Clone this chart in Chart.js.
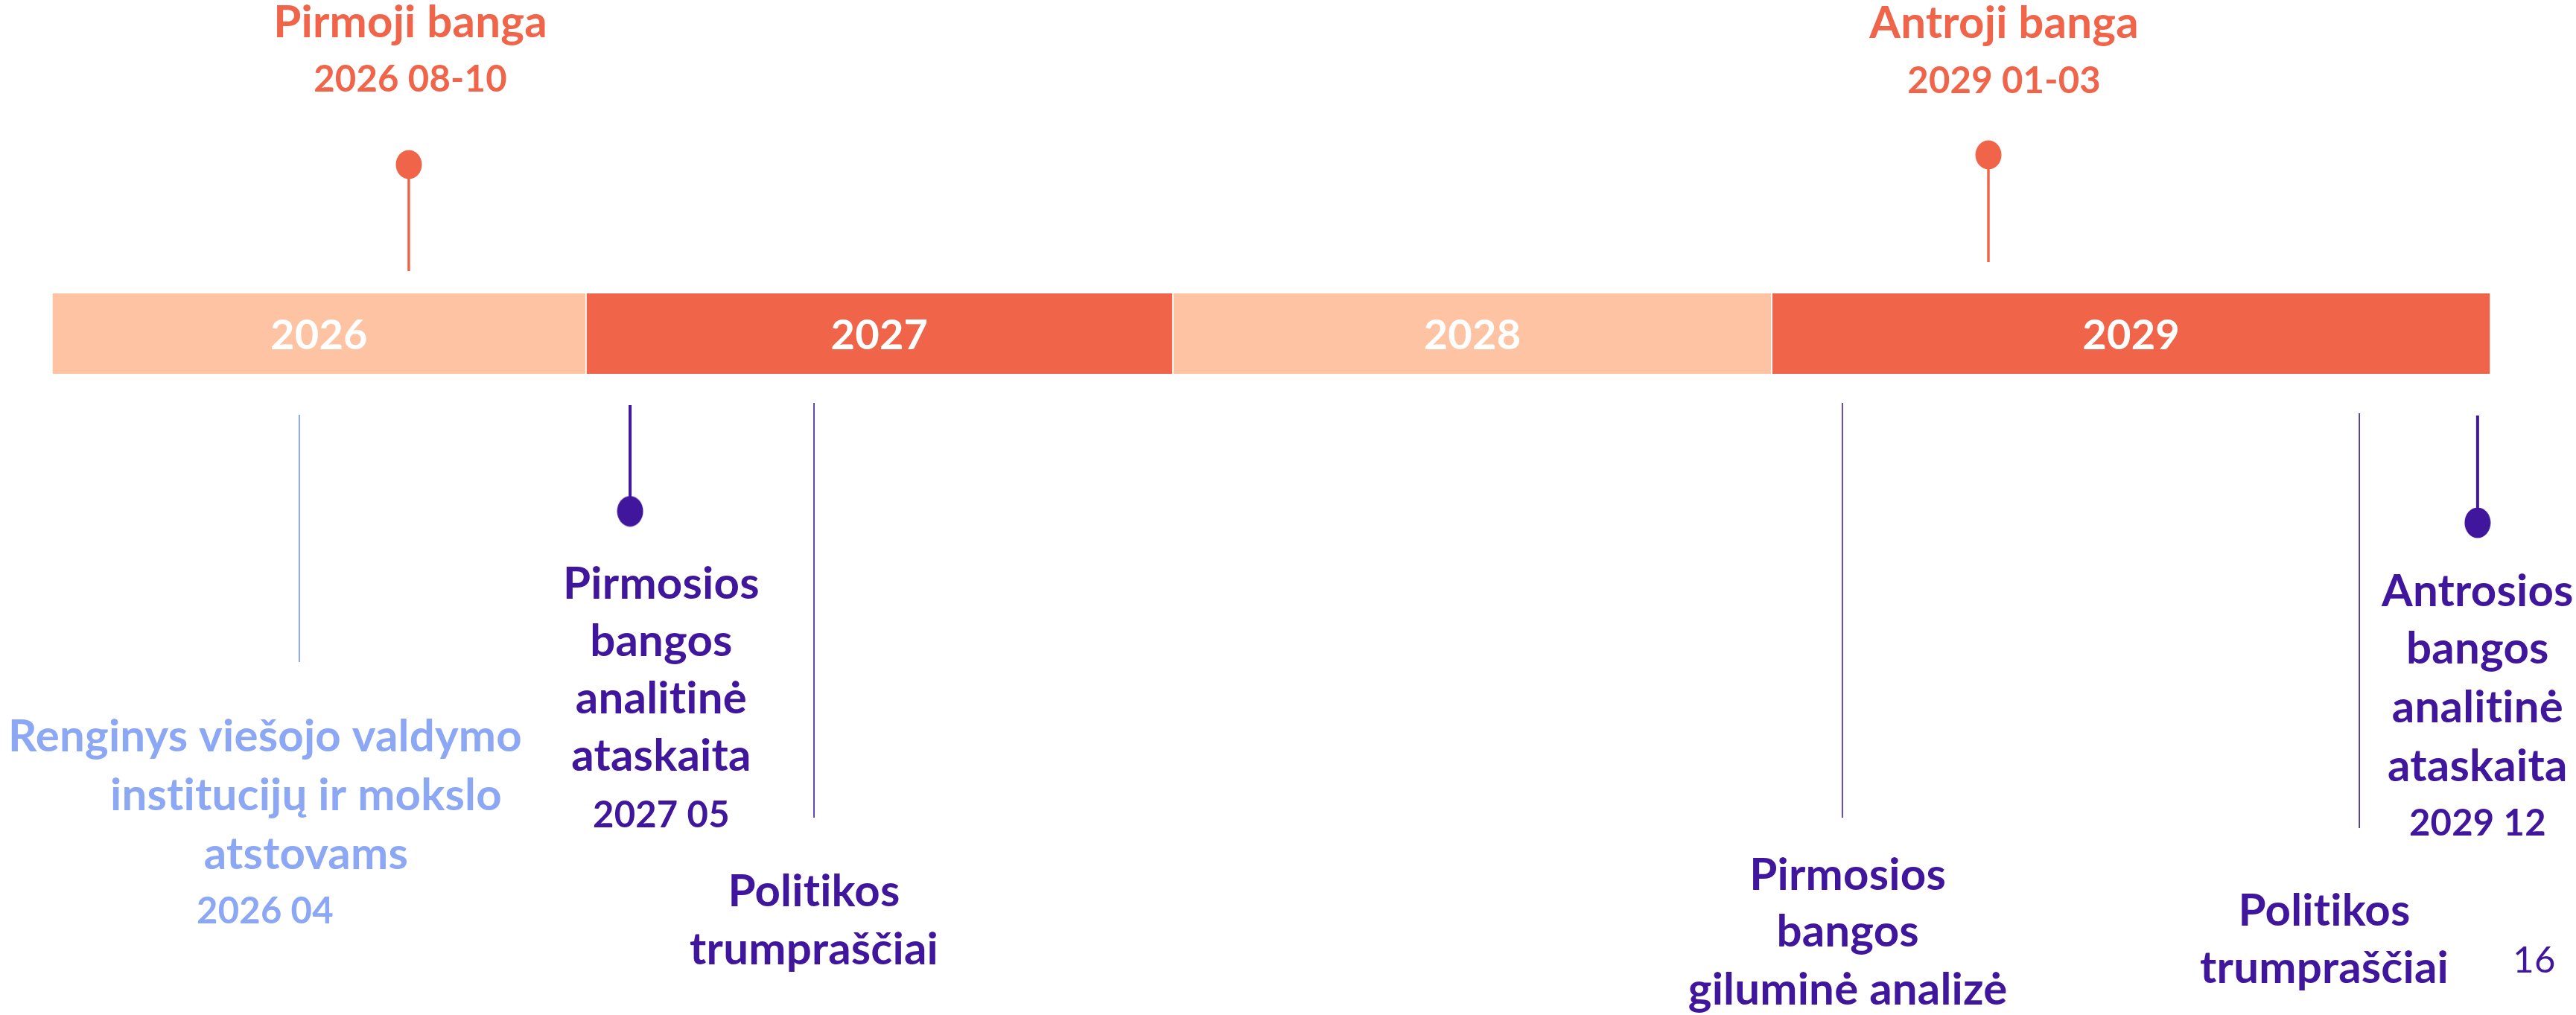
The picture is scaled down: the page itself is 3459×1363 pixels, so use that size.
<!DOCTYPE html>
<html><head><meta charset="utf-8">
<script src="https://cdn.jsdelivr.net/npm/chart.js@4"></script>
<style>html,body{margin:0;padding:0;background:#fff;overflow:hidden}canvas{display:block}</style>
</head><body>
<canvas id="c" width="3459" height="1363"></canvas>
<script>
// ---------- DATA ----------
// Timeline positions are read from the picture in "percent of the timeline width".
const years = ['2026', '2027', '2028', '2029'];
const yearStart = [2.02, 22.75, 45.53, 68.78];
const yearEnd = [22.75, 45.53, 68.78, 96.68];

const milestoneLabels = [
  ['Pirmoji banga'],
  ['Antroji banga'],
  ['Pirmosios', 'bangos', 'analitinė', 'ataskaita'],
  ['Antrosios', 'bangos', 'analitinė', 'ataskaita']
];
const milestoneDates = ['2026 08-10', '2029 01-03', '2027 05', '2029 12'];
const milestoneX = [15.87, 77.19, 24.46, 96.18];

const activityLabels = [
  ['Renginys viešojo valdymo', 'institucijų ir mokslo', 'atstovams'],
  ['Politikos', 'trumpraščiai'],
  ['Pirmosios', 'bangos', 'giluminė analizė'],
  ['Politikos', 'trumpraščiai']
];
const activityDates = ['2026 04', '', '', ''];
const activityX = [11.62, 31.60, 71.52, 91.59];

const pageNumber = '16';

// ---------- LAYOUT & STYLE (vertical levels in percent of height) ----------
const LAYOUT = {
  bandLevel: 32.87,
  milestoneDotLevel: [16.21, 15.26, 50.37, 51.50],
  milestoneStemEnd: [26.71, 25.83, 39.91, 40.94],
  activityTop: [40.87, 39.69, 39.69, 40.72],
  activityBottom: [65.22, 80.56, 80.56, 81.58],
  milestoneText: [
    {cx: [15.93], y: [3.67, 9.02]},
    {cx: [77.80], y: [3.74, 9.17]},
    {cx: [25.67], y: [58.99, 64.64, 70.29, 75.94, 81.51]},
    {cx: [96.18], y: [59.72, 65.37, 71.17, 76.96, 82.32]}
  ],
  activityText: [
    {cx: [10.29, 11.88, 11.88, 10.29], y: [74.03, 79.82, 85.62, 90.98]},
    {cx: [31.60], y: [89.29, 95.01]},
    {cx: [71.73], y: [87.67, 93.25, 98.97]},
    {cx: [90.23], y: [91.20, 96.85]}
  ],
  pageText: {cx: 98.38, y: 95.82}
};
const ORANGE = '#F0654A', PEACH = '#FEC3A2', PURPLE = '#3F169C', BLUE = '#8CA8F5', THIN = '#5235B0';
const FONT = 'Lato, "Open Sans", sans-serif';
const LABEL_SIZE = 60, DATE_SIZE = 49, YEAR_SIZE = 56, PAGE_SIZE = 49;
const milestoneColor = [ORANGE, ORANGE, PURPLE, PURPLE];
const activityTextColor = [BLUE, PURPLE, PURPLE, PURPLE];
const activityLineColor = [BLUE, THIN, THIN, THIN];

function ellipse(color, w, h) {
  const c = document.createElement('canvas');
  c.width = w; c.height = h;
  const g = c.getContext('2d');
  g.fillStyle = color;
  g.beginPath();
  g.ellipse(w / 2, h / 2, w / 2 - 0.5, h / 2 - 0.5, 0, 0, Math.PI * 2);
  g.fill();
  return c;
}
const dotImages = milestoneColor.map((c, i) => ellipse(c, 36, i < 2 ? 40 : 42));

// ---------- DATASETS ----------
const datasets = [];
datasets.push({
  type: 'bar',
  indexAxis: 'y',
  data: years.map((yr, i) => ({x: [yearStart[i], yearEnd[i]], y: LAYOUT.bandLevel})),
  backgroundColor: years.map((_, i) => i % 2 === 0 ? PEACH : ORANGE),
  borderColor: '#ffffff',
  borderWidth: {left: 1.2, right: 1.2, top: 0, bottom: 0},
  borderSkipped: false,
  barThickness: 108,
  order: 3
});
activityX.forEach((x, i) => datasets.push({
  type: 'line',
  data: [{x: x, y: LAYOUT.activityTop[i]}, {x: x, y: LAYOUT.activityBottom[i]}],
  borderColor: activityLineColor[i],
  borderWidth: i === 0 ? 2 : 1.8,
  pointRadius: 0,
  order: 2
}));
milestoneX.forEach((x, i) => datasets.push({
  type: 'line',
  data: [{x: x, y: LAYOUT.milestoneDotLevel[i]}, {x: x, y: LAYOUT.milestoneStemEnd[i]}],
  borderColor: milestoneColor[i],
  borderWidth: i < 2 ? 3.5 : 4,
  pointRadius: 0,
  order: 1
}));
datasets.push({
  type: 'scatter',
  data: milestoneX.map((x, i) => ({x: x, y: LAYOUT.milestoneDotLevel[i]})),
  pointStyle: dotImages,
  pointRadius: 20,
  order: 0
});

// ---------- TEXT PLUGIN ----------
const textPlugin = {
  id: 'timelineText',
  afterDatasetsDraw(chart) {
    const ctx = chart.ctx, xs = chart.scales.x, ys = chart.scales.y;
    ctx.save();
    ctx.textAlign = 'center';
    ctx.textBaseline = 'alphabetic';
    try { ctx.letterSpacing = '0.2px'; } catch (e) {}
    // year labels inside bands
    const meta = chart.getDatasetMeta(0);
    ctx.fillStyle = '#ffffff';
    ctx.font = 'bold ' + YEAR_SIZE + 'px ' + FONT;
    meta.data.forEach((el, i) => {
      ctx.fillText(years[i], (el.x + el.base) / 2, el.y + 21);
    });
    const drawBlock = (lines, date, pos, color) => {
      const all = date ? lines.concat([date]) : lines;
      ctx.fillStyle = color;
      all.forEach((t, k) => {
        const isDate = date && k === all.length - 1;
        ctx.font = 'bold ' + (isDate ? DATE_SIZE : LABEL_SIZE) + 'px ' + FONT;
        const cx = pos.cx[Math.min(k, pos.cx.length - 1)];
        ctx.fillText(t, xs.getPixelForValue(cx), ys.getPixelForValue(pos.y[k]));
      });
    };
    milestoneLabels.forEach((l, i) => drawBlock(l, milestoneDates[i], LAYOUT.milestoneText[i], milestoneColor[i]));
    activityLabels.forEach((l, i) => drawBlock(l, activityDates[i], LAYOUT.activityText[i], activityTextColor[i]));
    ctx.font = PAGE_SIZE + 'px ' + FONT;
    ctx.fillStyle = PURPLE;
    ctx.fillText(pageNumber, xs.getPixelForValue(LAYOUT.pageText.cx), ys.getPixelForValue(LAYOUT.pageText.y));
    ctx.restore();
  }
};

new Chart(document.getElementById('c'), {
  type: 'scatter',
  data: {datasets},
  options: {
    responsive: false,
    devicePixelRatio: 1,
    animation: false,
    events: [],
    layout: {padding: 0, autoPadding: false},
    plugins: {legend: {display: false}, tooltip: {enabled: false}},
    scales: {
      x: {type: 'linear', min: 0, max: 100, display: false, offset: false},
      y: {type: 'linear', min: 0, max: 100, reverse: true, display: false, offset: false}
    }
  },
  plugins: [textPlugin]
});
</script>
</body></html>
